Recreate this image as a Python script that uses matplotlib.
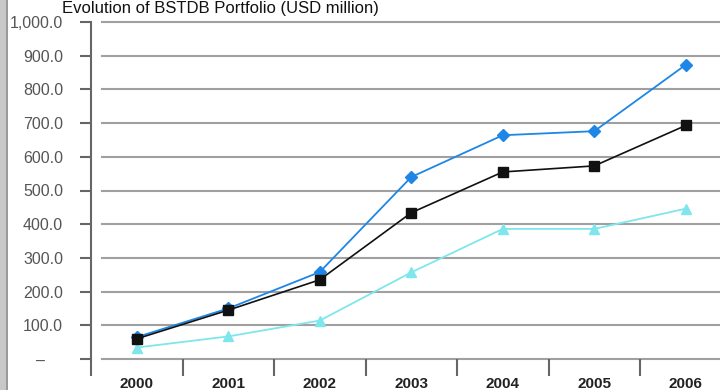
import matplotlib
matplotlib.use('Agg')
import matplotlib.pyplot as plt
from matplotlib.patches import Rectangle
from matplotlib.ticker import FuncFormatter

years = ['2000', '2001', '2002', '2003', '2004', '2005', '2006']
approved = [65, 150, 258, 540, 664, 676, 873]
signed = [60, 145, 235, 434, 555, 573, 693]
disbursed = [34, 67, 114, 257, 386, 386, 446]
yticks = [0, 100, 200, 300, 400, 500, 600, 700, 800, 900, 1000]

plt.rcParams['font.family'] = ['Liberation Sans Narrow', 'Liberation Sans', 'DejaVu Sans']

fig = plt.figure(figsize=(7.2, 3.9), dpi=100)
W, H = 720.0, 390.0

# grey frame strip on the left
fig.patches.append(Rectangle((0, 0), 6 / W, 1, transform=fig.transFigure,
                             facecolor='#c8c8c8', edgecolor='none'))
fig.patches.append(Rectangle((6 / W, 0), 1.5 / W, 1, transform=fig.transFigure,
                             facecolor='#9a9a9a', edgecolor='none'))

ax = fig.add_axes([91 / W, (H - 359) / H, (W - 91) / W, 337 / H])
x = list(range(len(years)))

ax.plot(x, disbursed, color='#7ee6ec', lw=1.3, marker='^', ms=7, zorder=3)
ax.plot(x, approved, color='#1e86e6', lw=1.3, marker='D', ms=6.5, zorder=4)
ax.plot(x, signed, color='#111111', lw=1.2, marker='s', ms=6.5, zorder=5)

ax.set_xlim(-0.5, -0.5 + (W - 91) / 91.5)
ax.set_ylim(0, 1000)

# gridlines start a little right of the axis line
for v in yticks:
    ax.axhline(v, xmin=11 / (W - 91), xmax=1, color='#a0a0a0', lw=1.5, zorder=1,
               clip_on=False)

for s in ['top', 'right', 'bottom']:
    ax.spines[s].set_visible(False)
ax.spines['left'].set_color('#666666')
ax.spines['left'].set_linewidth(1.5)

ax.set_yticks(yticks)
ax.yaxis.set_major_formatter(FuncFormatter(
    lambda v, p: '\u2013    ' if v == 0 else f'{v:,.1f}'))
ax.tick_params(axis='y', direction='out', length=8, width=1.5, color='#666666',
               pad=12, labelsize=11.5, labelcolor='#555555')

# category labels centred, tick marks between categories
ax.set_xticks(x)
ax.set_xticklabels(years, fontweight='bold')
ax.tick_params(axis='x', which='major', length=0, pad=13, labelsize=11,
               labelcolor='#222222')
ax.set_xticks([i - 0.5 for i in x], minor=True)
ax.tick_params(axis='x', which='minor', direction='out', length=12, width=1.5,
               color='#666666')

fig.text(220 / W, 1 - 13 / H, 'Evolution of BSTDB Portfolio (USD million)',
         ha='center', va='baseline', fontsize=12, color='#111111',
         family=['Liberation Sans', 'DejaVu Sans'])

fig.savefig('out.png', dpi=100)
